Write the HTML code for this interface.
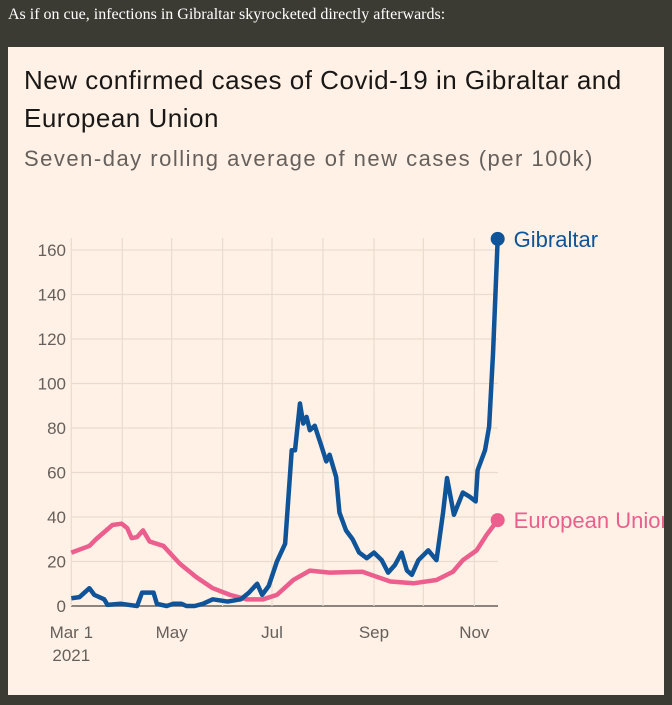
<!DOCTYPE html>
<html><head><meta charset="utf-8">
<style>
html,body{margin:0;padding:0;width:672px;height:705px;background:#3c3b33;overflow:hidden}
#cap{position:absolute;left:8px;top:6px;font:16px "Liberation Serif",serif;color:#fff}
#card{position:absolute;left:8px;top:47px;width:656px;height:648px;background:#fff1e5;overflow:hidden}
#t{position:absolute;left:16px;top:14px;font:26px/38px "Liberation Sans",sans-serif;color:#1a1817;letter-spacing:0.5px}
#s{position:absolute;left:16px;top:99px;font:22px "Liberation Sans",sans-serif;color:#66605c;letter-spacing:1.5px}
svg{position:absolute;left:-8px;top:-47px}
</style></head><body>
<div id="cap">As if on cue, infections in Gibraltar skyrocketed directly afterwards:</div>
<div id="card">
<div id="t">New confirmed cases of Covid-19 in Gibraltar and<br>European Union</div>
<div id="s">Seven-day rolling average of new cases (per 100k)</div>
<svg id="chart" width="672" height="705"></svg>
</div>
<script>
const yTicks=[0,20,40,60,80,100,120,140,160];
const monthDays=[0,31,61,92,122,153,184,214,245];
const monthLabels=["Mar 1","","May","","Jul","","Sep","","Nov"];
const gibDays=[0,5,11,14,20,22,30,40,43,50,52,58,62,67,70,75,80,86,95,103,108,113,116,120,125,130,134,136,139,141,143,145,148,152,155,157,161,163,167,171,175,179.6,184,188.7,192.6,196.8,200.8,204,207,211,217,222,226,228.4,232.6,238,242.4,245.8,247,251.5,254,256.4,259.2];
const gibVals=[3.5,4,8,5,3,0.5,1,0,6,6,1,0,1,1,0,0,1,3,2,3,6,10,5,9,20,28,70,70,91,82,85,79,81,72,65,68,58,42,34,30,24,21.5,24,20.6,15,18.5,24,16,14,20.6,25,20.6,42,57.5,41,51,49,47,61,70,80.6,114,165];
const euDays=[0,11,15,25,30.6,34,36.7,40,43.6,47.6,56,66,76,86,96.5,106.6,116.6,125,135,145,157,177,194,208,222,232,238,246.4,252.5,259.2];
const euVals=[24,27,30,36.4,37,35,30.5,31,34,29,27,19,13,8,5,3,3,5,11.7,15.9,15,15.4,11,10.2,11.7,15.4,20.6,25,32,38.6];
const X=d=>71.3+d*1.645, Y=v=>606-v*2.225;
const svg=document.getElementById('chart'),NS='http://www.w3.org/2000/svg';
function mk(t,a){const e=document.createElementNS(NS,t);for(const k in a)e.setAttribute(k,a[k]);svg.appendChild(e);return e;}
yTicks.forEach(v=>{
  const l=mk('line',{x1:71,x2:498,y1:Y(v),y2:Y(v),stroke:v?'#e9dccf':'#66605c','stroke-width':v?1.2:1.5});
  
  
  const t=mk('text',{x:66,y:Y(v)+6,'text-anchor':'end','font-family':'Liberation Sans,sans-serif','font-size':17,fill:'#66605c'});
  t.textContent=v;
  
  
});
monthDays.forEach((d,i)=>{
  const l=mk('line',{x1:X(d),x2:X(d),y1:238,y2:606,stroke:'#e9dccf','stroke-width':1.2});
  
  
  if(monthLabels[i]){
    const t=mk('text',{x:X(d),y:638,'text-anchor':'middle','font-family':'Liberation Sans,sans-serif','font-size':17,fill:'#66605c'});
    t.textContent=monthLabels[i];
    
    
  }
});
const yr=mk('text',{x:X(0),y:661,'text-anchor':'middle','font-family':'Liberation Sans,sans-serif','font-size':17,fill:'#66605c'});
yr.textContent='2021';


function series(days,vals,col,name,label){
  const p=mk('polyline',{points:days.map((d,i)=>X(d)+','+Y(vals[i])).join(' '),fill:'none',stroke:col,'stroke-width':4.5,'stroke-linejoin':'round'});
  
  
  const n=days.length-1;
  const c=mk('circle',{cx:X(days[n]),cy:Y(vals[n]),r:7,fill:col});
  
  
  const t=mk('text',{x:X(days[n])+16,y:Y(vals[n])+8,'font-family':'Liberation Sans,sans-serif','font-size':22,fill:col});
  t.textContent=label;
  
  
}
series(euDays,euVals,'#eb5e8d','eu','European Union');
series(gibDays,gibVals,'#0f5499','gibraltar','Gibraltar');
</script>
</body></html>
